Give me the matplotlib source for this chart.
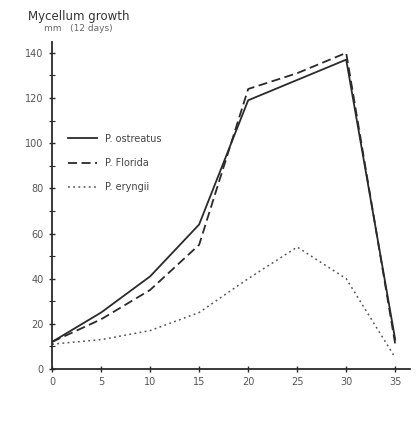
import matplotlib
matplotlib.use("Agg")
import matplotlib.pyplot as plt
from matplotlib.ticker import MultipleLocator

# temperature (x) and mycelium growth (mm / 12 days)
temps = [0, 5, 10, 15, 20, 25, 30, 35]
ostreatus = [12, 25, 41, 64, 119, 128, 137, 13]
florida = [12, 22, 35, 55, 124, 131, 140, 11]
eryngii = [11, 13, 17, 25, 40, 54, 40, 5]

series_labels = ["P. ostreatus", "P. Florida", "P. eryngii"]
x_ticks = [0, 5, 10, 15, 20, 25, 30, 35]
y_ticks = [0, 20, 40, 60, 80, 100, 120, 140]

ink = "#2a2a2a"

fig = plt.figure(figsize=(4.2, 4.23), dpi=100)
ax = fig.add_axes([0.124, 0.1277, 0.852, 0.774])

ax.plot(temps, ostreatus, color=ink, lw=1.3, ls="-", label=series_labels[0])
ax.plot(temps, florida, color=ink, lw=1.3, ls=(0, (5, 2.5)), label=series_labels[1])
ax.plot(temps, eryngii, color="#555555", lw=1.1, ls=(0, (1.2, 2.2)), label=series_labels[2])

ax.set_xlim(0, 36.5)
ax.set_ylim(0, 145)
ax.set_xticks(x_ticks)
ax.set_yticks(y_ticks)
ax.yaxis.set_minor_locator(MultipleLocator(10))
ax.tick_params(axis="both", direction="inout", length=5, width=1, colors=ink,
               labelsize=7, labelcolor="#555555")
ax.tick_params(which="minor", direction="inout", length=4, width=0.8, colors=ink)
for s in ["top", "right"]:
    ax.spines[s].set_visible(False)
for s in ["left", "bottom"]:
    ax.spines[s].set_color(ink)
    ax.spines[s].set_linewidth(1.3)

ax.legend(loc="upper left", bbox_to_anchor=(0.02, 0.745), frameon=False,
          fontsize=7, handlelength=3.0, labelspacing=1.45, labelcolor="#444444")

fig.text(0.067, 0.953, "Mycellum growth", fontsize=8.5, color="#333333")
fig.text(0.105, 0.927, "mm   (12 days)", fontsize=6.5, color="#666666")

fig.savefig("out.png", dpi=100)
